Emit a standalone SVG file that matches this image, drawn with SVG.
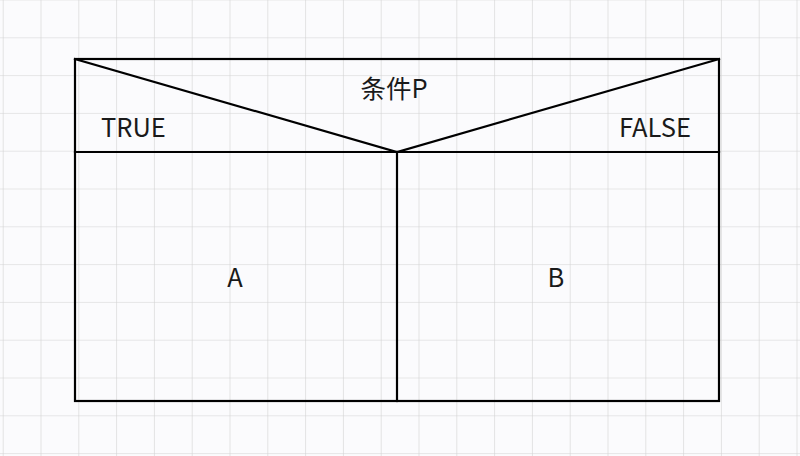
<svg xmlns="http://www.w3.org/2000/svg" width="800" height="456" viewBox="0 0 800 456">
<defs>
<pattern id="grid" x="2.7" y="37.3" width="37.8" height="37.8" patternUnits="userSpaceOnUse">
<path d="M0 0H37.8M0 0V37.8" fill="none" stroke="#d2d2d2" stroke-width="1.2"/>
</pattern>
<style>
.ln{stroke:#000;stroke-width:2.2;fill:none;stroke-linecap:square}
.t{font-family:"Noto Sans CJK SC","Noto Sans",sans-serif;font-size:25.5px;fill:#1a1a1a}
</style>
</defs>
<rect width="800" height="456" fill="#fbfbfd"/>
<rect width="800" height="456" fill="url(#grid)"/>
<g id="frame">
<rect x="75" y="59" width="644" height="342" fill="#fefefe" class="ln"/>
</g>
<g id="condition">
<text class="t" x="394" y="98" text-anchor="middle">条件P</text>
<text class="t" x="101" y="137">TRUE</text>
<text class="t" x="691" y="137" text-anchor="end">FALSE</text>
</g>
<g id="nodeA"><text class="t" x="235" y="287" text-anchor="middle">A</text></g>
<g id="nodeB"><text class="t" x="556" y="287" text-anchor="middle">B</text></g>
<g id="connectors">
<path class="ln" d="M75 59L397 152L719 59"/>
<path class="ln" d="M75 152H719"/>
<path class="ln" d="M397 152V401"/>
</g>
</svg>
